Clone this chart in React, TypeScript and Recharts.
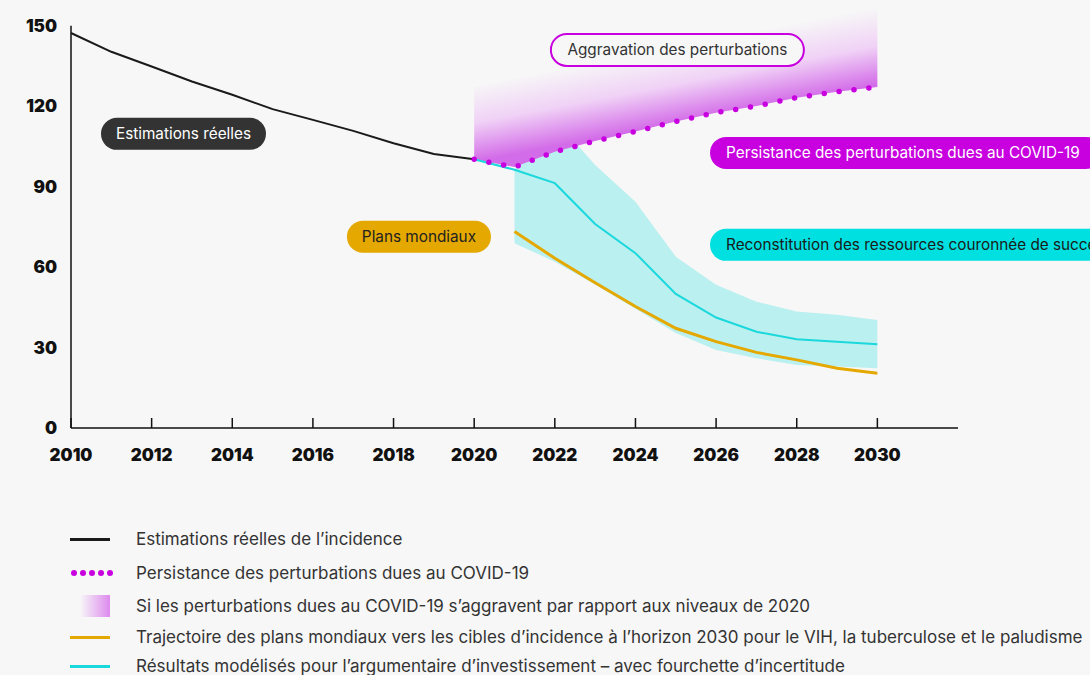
import {
  Area,
  ComposedChart,
  Line,
  ReferenceDot,
  ReferenceLine,
  XAxis,
  YAxis,
} from "recharts";

const years = [
  2010, 2011, 2012, 2013, 2014, 2015, 2016, 2017, 2018, 2019, 2020, 2021, 2022,
  2023, 2024, 2025, 2026, 2027, 2028, 2029, 2030,
];
const N = null;
// real estimates 2010-2020
const estimates = [147.3, 140.3, 134.8, 129.2, 124.3, 118.9, 114.9, 110.8, 106.2, 102.2, 100.2, N, N, N, N, N, N, N, N, N, N];
// persisting COVID-19 disruption (dotted)
const persistence = [N, N, N, N, N, N, N, N, N, N, 100.2, 97.3, 103, 107, 110.6, 114.3, 117.6, 120.1, 123.2, 125.4, 127.2];
// upper edge of the "worsening" zone
const worseningTop = [N, N, N, N, N, N, N, N, N, N, 127, 130, 133, 136, 139, 142, 145, 148, 151, 154, 157];
// global plans trajectory
const globalPlans = [N, N, N, N, N, N, N, N, N, N, N, 73.3, 63.3, 54.2, 45.3, 37.2, 32.2, 28.2, 25.4, 22.3, 20.4];
// investment case, modelled result + uncertainty range
const modelled = [N, N, N, N, N, N, N, N, N, N, 100.2, 96.3, 91.3, 76.1, 65.2, 50, 41.2, 35.9, 33.1, 32.2, 31.2];
const rangeLow = [N, N, N, N, N, N, N, N, N, N, N, 68.9, 62, 53.5, 44.5, 35.4, 29.1, 26, 23.5, 22.9, 22.3];
const rangeHigh = [N, N, N, N, N, N, N, N, N, N, N, 96.3, 115, 98.1, 84.4, 63.9, 53.4, 47.1, 43.4, 42.2, 40.3];

const xTicks = [2010, 2012, 2014, 2016, 2018, 2020, 2022, 2024, 2026, 2028, 2030];
const yTicks = [0, 30, 60, 90, 120, 150];

const data = years.map((year, i) => ({
  year,
  estimates: estimates[i],
  persistence: persistence[i],
  worsening: persistence[i] == null ? null : [persistence[i], worseningTop[i]],
  globalPlans: globalPlans[i],
  modelled: modelled[i],
  range: rangeLow[i] == null ? null : [rangeLow[i], rangeHigh[i]],
}));

type Pill = {
  text: string;
  x: number;
  y: number;
  width: number;
  anchor: "middle" | "start";
  fill: string;
  color: string;
  stroke?: string;
};

const pills: Pill[] = [
  { text: "Estimations réelles", x: 2012.79, y: 109.7, width: 165, anchor: "middle", fill: "#333333", color: "#ffffff" },
  { text: "Plans mondiaux", x: 2018.63, y: 71.3, width: 144, anchor: "middle", fill: "#e5a800", color: "#222222" },
  { text: "Aggravation des perturbations", x: 2025.04, y: 141, width: 253, anchor: "middle", fill: "#f7f7f7", color: "#333333", stroke: "#c800e0" },
  { text: "Persistance des perturbations dues au COVID-19", x: 2025.85, y: 102.6, width: 392, anchor: "start", fill: "#c800e0", color: "#ffffff" },
  { text: "Reconstitution des ressources couronnée de succès", x: 2025.85, y: 68.3, width: 440, anchor: "start", fill: "#00e0e0", color: "#1a1a1a" },
];

const legendItems = [
  { label: "Estimations réelles de l’incidence", kind: "line", color: "#1a1a1a", top: 539 },
  { label: "Persistance des perturbations dues au COVID-19", kind: "dots", color: "#c800e0", top: 573 },
  { label: "Si les perturbations dues au COVID-19 s’aggravent par rapport aux niveaux de 2020", kind: "fade", color: "#dd8aee", top: 606 },
  { label: "Trajectoire des plans mondiaux vers les cibles d’incidence à l’horizon 2030 pour le VIH, la tuberculose et le paludisme", kind: "line", color: "#e5a800", top: 637 },
  { label: "Résultats modélisés pour l’argumentaire d’investissement – avec fourchette d’incertitude", kind: "line", color: "#1ad8dc", top: 666 },
];

const FONT = "Inter, 'Noto Sans', sans-serif";

function PillShape(props: any) {
  const { cx, cy, pill } = props as { cx: number; cy: number; pill: Pill };
  const h = 32;
  const left = pill.anchor === "middle" ? cx - pill.width / 2 : cx;
  return (
    <g>
      <rect
        x={left}
        y={cy - h / 2}
        width={pill.width}
        height={h}
        rx={h / 2}
        fill={pill.fill}
        stroke={pill.stroke ?? "none"}
        strokeWidth={2}
      />
      <text
        x={pill.anchor === "middle" ? cx : left + 16}
        y={cy}
        dy="0.35em"
        textAnchor={pill.anchor}
        fill={pill.color}
        fontFamily={FONT}
        fontSize={15.3}
      >
        {pill.text}
      </text>
    </g>
  );
}

function Swatch({ kind, color }: { kind: string; color: string }) {
  if (kind === "dots") {
    return (
      <svg width={44} height={10}>
        {[0, 1, 2, 3, 4].map((k) => (
          <circle key={k} cx={4 + k * 9} cy={5} r={3} fill={color} />
        ))}
      </svg>
    );
  }
  if (kind === "fade") {
    return (
      <div
        style={{
          width: 30,
          height: 22,
          marginLeft: 10,
          background: `linear-gradient(to right, rgba(221,138,238,0), ${color})`,
        }}
      />
    );
  }
  return <div style={{ width: 40, height: 3, background: color }} />;
}

export default function App() {
  return (
    <div
      style={{
        position: "absolute",
        left: 0,
        top: 0,
        width: 1090,
        height: 675,
        background: "#f7f7f7",
        overflow: "hidden",
        fontFamily: FONT,
      }}
    >
      <ComposedChart
        width={1090}
        height={480}
        data={data}
        margin={{ top: 7, right: 132, bottom: 12, left: 11 }}
        style={{ overflow: "visible" }}
      >
        <defs>
          <linearGradient id="worseFade" x1="0.5" y1="0.24" x2="0.69" y2="0.635">
            <stop offset="0%" stopColor="#f7f7f7" />
            <stop offset="50%" stopColor="#f0d2f6" />
            <stop offset="100%" stopColor="#d36ce8" />
          </linearGradient>
        </defs>
        <XAxis
          dataKey="year"
          type="number"
          domain={[2010, 2032]}
          ticks={xTicks}
          height={40}
          tickSize={-10}
          tickMargin={31}
          stroke="#111"
          axisLine={{ stroke: "#111", strokeWidth: 1.5 }}
          tickLine={{ stroke: "#111", strokeWidth: 1.5 }}
          tick={{ fill: "#111", fontSize: 17, fontWeight: 900, fontFamily: FONT }}
          interval={0}
        />
        <YAxis
          type="number"
          domain={[0, 157]}
          ticks={yTicks}
          width={60}
          axisLine={false}
          tickLine={false}
          tickSize={0}
          tickMargin={14}
          tick={{ fill: "#111", fontSize: 17, fontWeight: 900, fontFamily: FONT }}
        />
        <ReferenceLine
          segment={[
            { x: 2010, y: 0 },
            { x: 2010, y: 150 },
          ]}
          stroke="#111"
          strokeWidth={1.5}
        />
        <Area
          dataKey="range"
          type="linear"
          stroke="none"
          fill="#baf0ef"
          fillOpacity={1}
          isAnimationActive={false}
        />
        <Area
          dataKey="worsening"
          type="linear"
          stroke="none"
          fill="url(#worseFade)"
          fillOpacity={1}
          isAnimationActive={false}
        />
        <Line
          dataKey="globalPlans"
          type="linear"
          stroke="#e5a800"
          strokeWidth={3}
          dot={false}
          isAnimationActive={false}
        />
        <Line
          dataKey="modelled"
          type="linear"
          stroke="#1ad8dc"
          strokeWidth={2}
          dot={false}
          isAnimationActive={false}
        />
        <Line
          dataKey="estimates"
          type="linear"
          stroke="#1a1a1a"
          strokeWidth={2}
          dot={false}
          isAnimationActive={false}
        />
        <Line
          dataKey="persistence"
          type="linear"
          stroke="#c800e0"
          strokeWidth={5.5}
          strokeLinecap="round"
          strokeDasharray="0 15"
          dot={false}
          isAnimationActive={false}
        />
        {pills.map((p) => (
          <ReferenceDot
            key={p.text}
            x={p.x}
            y={p.y}
            r={0}
            ifOverflow="visible"
            shape={(props: any) => <PillShape {...props} pill={p} />}
          />
        ))}
      </ComposedChart>
      {legendItems.map((item) => (
        <div
          key={item.label}
          style={{
            position: "absolute",
            left: 70,
            top: item.top - 12,
            height: 24,
            display: "flex",
            alignItems: "center",
            whiteSpace: "nowrap",
          }}
        >
          <div style={{ width: 66, display: "flex", alignItems: "center" }}>
            <Swatch kind={item.kind} color={item.color} />
          </div>
          <span style={{ fontSize: 17, color: "#333" }}>{item.label}</span>
        </div>
      ))}
    </div>
  );
}
